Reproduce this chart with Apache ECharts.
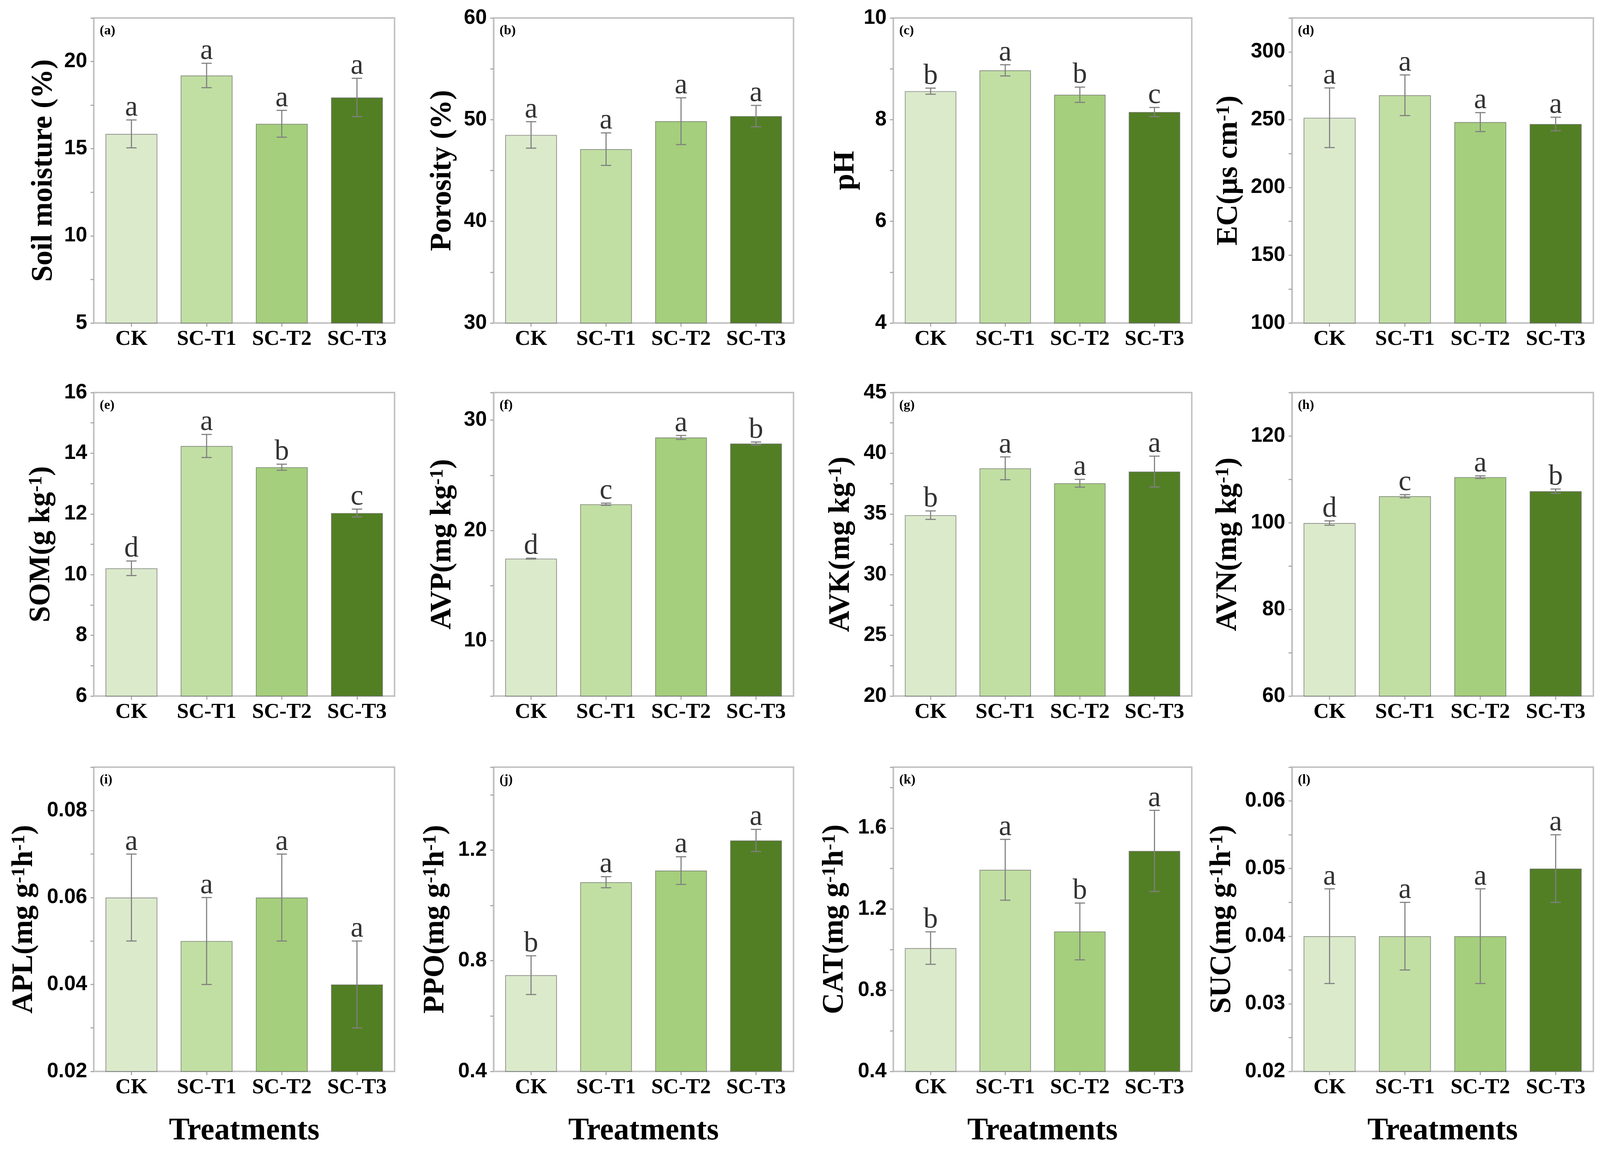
<!DOCTYPE html>
<html>
<head>
<meta charset="utf-8">
<script src="https://cdn.jsdelivr.net/npm/echarts@6/dist/echarts.min.js"></script>
<style>html,body{margin:0;padding:0;background:#fff;overflow:hidden}#c{position:absolute;left:0;top:0}</style>
</head>
<body>
<div id="c"></div>
<script>
// ---------- data ----------
const categories = ['CK', 'SC-T1', 'SC-T2', 'SC-T3'];

const moistureMean = [15.85, 19.2, 16.43, 17.94];
const moistureErr  = [0.8, 0.7, 0.77, 1.1];
const moistureSig  = ['a', 'a', 'a', 'a'];
const moistureTicks = ['5', '10', '15', '20'];
const moistureRange = [5, 22.5, 2.5];

const porosityMean = [48.5, 47.1, 49.85, 50.35];
const porosityErr  = [1.3, 1.6, 2.3, 1.05];
const porositySig  = ['a', 'a', 'a', 'a'];
const porosityTicks = ['30', '40', '50', '60'];
const porosityRange = [30, 60, 5];

const phMean = [8.56, 8.97, 8.49, 8.15];
const phErr  = [0.06, 0.11, 0.15, 0.09];
const phSig  = ['b', 'a', 'b', 'c'];
const phTicks = ['4', '6', '8', '10'];
const phRange = [4, 10, 1];

const ecMean = [251.4, 268, 248.2, 246.8];
const ecErr  = [22, 15, 7, 5];
const ecSig  = ['a', 'a', 'a', 'a'];
const ecTicks = ['100', '150', '200', '250', '300'];
const ecRange = [100, 325, 25];

const somMean = [10.21, 14.24, 13.54, 12.03];
const somErr  = [0.24, 0.38, 0.1, 0.13];
const somSig  = ['d', 'a', 'b', 'c'];
const somTicks = ['6', '8', '10', '12', '14', '16'];
const somRange = [6, 16, 1];

const avpMean = [17.45, 22.38, 28.43, 27.88];
const avpErr  = [0.04, 0.1, 0.18, 0.14];
const avpSig  = ['d', 'c', 'a', 'b'];
const avpTicks = ['10', '20', '30'];
const avpRange = [5, 32.5, 5];

const avkMean = [34.9, 38.76, 37.53, 38.49];
const avkErr  = [0.35, 0.94, 0.32, 1.27];
const avkSig  = ['b', 'a', 'a', 'a'];
const avkTicks = ['20', '25', '30', '35', '40', '45'];
const avkRange = [20, 45, 2.5];

const avnMean = [99.9, 106.1, 110.5, 107.25];
const avnErr  = [0.5, 0.37, 0.3, 0.5];
const avnSig  = ['d', 'c', 'a', 'b'];
const avnTicks = ['60', '80', '100', '120'];
const avnRange = [60, 130, 10];

const aplMean = [0.06, 0.05, 0.06, 0.04];
const aplErr  = [0.01, 0.01, 0.01, 0.01];
const aplSig  = ['a', 'a', 'a', 'a'];
const aplTicks = ['0.02', '0.04', '0.06', '0.08'];
const aplRange = [0.02, 0.09, 0.01];

const ppoMean = [0.748, 1.084, 1.126, 1.235];
const ppoErr  = [0.07, 0.02, 0.05, 0.04];
const ppoSig  = ['b', 'a', 'a', 'a'];
const ppoTicks = ['0.4', '0.8', '1.2'];
const ppoRange = [0.4, 1.5, 0.2];

const catMean = [1.008, 1.394, 1.09, 1.487];
const catErr  = [0.08, 0.15, 0.14, 0.2];
const catSig  = ['b', 'a', 'b', 'a'];
const catTicks = ['0.4', '0.8', '1.2', '1.6'];
const catRange = [0.4, 1.9, 0.2];

const sucMean = [0.04, 0.04, 0.04, 0.05];
const sucErr  = [0.007, 0.005, 0.007, 0.005];
const sucSig  = ['a', 'a', 'a', 'a'];
const sucTicks = ['0.02', '0.03', '0.04', '0.05', '0.06'];
const sucRange = [0.02, 0.065, 0.005];

const panelTags = ['(a)', '(b)', '(c)', '(d)', '(e)', '(f)', '(g)', '(h)', '(i)', '(j)', '(k)', '(l)'];
const axisTitles = [
  '{m|Soil moisture (%)}',
  '{m|Porosity (%)}',
  '{m|pH}',
  '{m|EC(μs cm}{s|-1}{m|)}',
  '{m|SOM(g kg}{s|-1}{m|)}',
  '{m|AVP(mg kg}{s|-1}{m|)}',
  '{m|AVK(mg kg}{s|-1}{m|)}',
  '{m|AVN(mg kg}{s|-1}{m|)}',
  '{m|APL(mg g}{s|-1}{m|h}{s|-1}{m|)}',
  '{m|PPO(mg g}{s|-1}{m|h}{s|-1}{m|)}',
  '{m|CAT(mg g}{s|-1}{m|h}{s|-1}{m|)}',
  '{m|SUC(mg g}{s|-1}{m|h}{s|-1}{m|)}'
];
const xTitle = 'Treatments';

const panels = [
  [moistureMean, moistureErr, moistureSig, moistureTicks, moistureRange],
  [porosityMean, porosityErr, porositySig, porosityTicks, porosityRange],
  [phMean, phErr, phSig, phTicks, phRange],
  [ecMean, ecErr, ecSig, ecTicks, ecRange],
  [somMean, somErr, somSig, somTicks, somRange],
  [avpMean, avpErr, avpSig, avpTicks, avpRange],
  [avkMean, avkErr, avkSig, avkTicks, avkRange],
  [avnMean, avnErr, avnSig, avnTicks, avnRange],
  [aplMean, aplErr, aplSig, aplTicks, aplRange],
  [ppoMean, ppoErr, ppoSig, ppoTicks, ppoRange],
  [catMean, catErr, catSig, catTicks, catRange],
  [sucMean, sucErr, sucSig, sucTicks, sucRange]
];

// ---------- layout / style (designed for 4331 x 2957, scaled to the real viewport) ----------
const BASE_W = 4331, BASE_H = 2957;
const colLefts = [254, 1336, 2418, 3497];
const colWidths = [814, 812, 808, 816];
const rowTops = [46, 1005, 1964];
const rowHeights = [781, 777, 779];
const nameGaps = [95, 97, 88, 130, 101, 97, 101, 132, 148, 116, 118, 148];
const barColors = ['#dbeacb', '#c1dfa3', '#a5cf7c', '#527f24'];
const frameColor = '#c2c2c2';
const errColor = '#808080';
const SERIF = '"Liberation Serif", "Times New Roman", serif';
const SANS = '"Liberation Sans", Arial, sans-serif';

const W = window.innerWidth || document.documentElement.clientWidth || BASE_W;
const H = window.innerHeight || document.documentElement.clientHeight || BASE_H;
const sx = W / BASE_W, sy = H / BASE_H, s = Math.min(sx, sy);
const dom = document.getElementById('c');
dom.style.width = W + 'px';
dom.style.height = H + 'px';

const grids = [], xAxes = [], yAxes = [], series = [], titles = [];

panels.forEach((p, k) => {
  const [mean, err, sig, ticks, range] = p;
  const r = Math.floor(k / 4), c = k % 4;
  const gl = colLefts[c] * sx, gt = rowTops[r] * sy;
  grids.push({
    left: gl, top: gt, width: colWidths[c] * sx, height: rowHeights[r] * sy,
    show: true, borderColor: frameColor, borderWidth: 4 * s, backgroundColor: 'transparent',
    containLabel: false, outerBoundsMode: 'none'
  });
  xAxes.push({
    type: 'category', gridIndex: k, data: categories,
    axisLine: { show: true, lineStyle: { color: frameColor, width: 4 * s } },
    axisTick: { show: true, alignWithLabel: true, length: 10 * s, lineStyle: { color: '#a8a8a8', width: 3 * s } },
    axisLabel: { interval: 0, hideOverlap: false, margin: 14 * sy, color: '#000', fontFamily: SERIF, fontWeight: 'bold', fontSize: 58 * s },
    splitLine: { show: false },
    name: r === 2 ? xTitle : '',
    nameLocation: 'middle', nameGap: 114 * sy, nameMoveOverlap: false,
    nameTextStyle: { color: '#000', fontFamily: SERIF, fontWeight: 'bold', fontSize: 84 * s }
  });
  const step = range[2];
  yAxes.push({
    type: 'value', gridIndex: k, min: range[0], max: range[1], interval: step,
    axisLine: { show: true, lineStyle: { color: frameColor, width: 4 * s } },
    axisTick: { show: true, inside: false, length: 9 * s, lineStyle: { color: '#a8a8a8', width: 3 * s } },
    axisLabel: {
      margin: 18 * sx, color: '#000', fontFamily: SANS, fontWeight: 'bold', fontSize: 56 * s,
      showMinLabel: true, showMaxLabel: true, hideOverlap: false,
      formatter: (v) => {
        const hit = ticks.find(t => Math.abs(parseFloat(t) - v) < step * 1e-6);
        return hit !== undefined ? hit : '';
      }
    },
    splitLine: { show: false },
    name: axisTitles[k], nameLocation: 'middle', nameGap: nameGaps[k] * sx, nameMoveOverlap: false,
    nameTextStyle: {
      color: '#000',
      rich: {
        m: { fontFamily: SERIF, fontWeight: 'bold', fontSize: 80 * s, lineHeight: 80 * s, verticalAlign: 'bottom', padding: [14 * s, 0, 0, 0], color: '#000' },
        s: { fontFamily: SERIF, fontWeight: 'bold', fontSize: 52 * s, lineHeight: 52 * s, verticalAlign: 'top', color: '#000' }
      }
    }
  });
  series.push({
    type: 'bar', xAxisIndex: k, yAxisIndex: k, data: mean, barWidth: '69%',
    itemStyle: { color: (q) => barColors[q.dataIndex], borderColor: 'rgba(95,95,95,0.65)', borderWidth: 2 * s },
    silent: true, z: 2
  });
  series.push({
    type: 'custom', xAxisIndex: k, yAxisIndex: k, z: 5, silent: true,
    data: mean.map((m, i) => [i, m - err[i], m + err[i]]),
    encode: { x: 0, y: [1, 2] },
    renderItem: (params, api) => {
      const x = api.value(0);
      const lo = api.coord([x, api.value(1)]);
      const hi = api.coord([x, api.value(2)]);
      const hw = 14 * sx;
      const st = { stroke: errColor, lineWidth: 3 * s };
      return {
        type: 'group', children: [
          { type: 'line', shape: { x1: lo[0], y1: lo[1], x2: hi[0], y2: hi[1] }, style: st },
          { type: 'line', shape: { x1: hi[0] - hw, y1: hi[1], x2: hi[0] + hw, y2: hi[1] }, style: st },
          { type: 'line', shape: { x1: lo[0] - hw, y1: lo[1], x2: lo[0] + hw, y2: lo[1] }, style: st }
        ]
      };
    }
  });
  series.push({
    type: 'scatter', xAxisIndex: k, yAxisIndex: k, z: 6, silent: true,
    symbolSize: 0, symbol: 'circle',
    data: mean.map((m, i) => [i, m + err[i]]),
    label: {
      show: true, position: 'top', distance: 2 * sy,
      formatter: (q) => sig[q.dataIndex],
      fontFamily: SERIF, fontSize: 78 * s, lineHeight: 60 * s, color: '#000'
    }
  });
  titles.push({
    text: panelTags[k], left: gl + 16 * sx, top: gt + 16 * sy, padding: 0,
    textStyle: { fontFamily: SERIF, fontWeight: 'bold', fontSize: 36 * s, color: '#000' }
  });
});

const chart = echarts.init(dom, null, { renderer: 'canvas', width: W, height: H });
chart.setOption({
  animation: false,
  backgroundColor: '#fff',
  title: titles,
  grid: grids,
  xAxis: xAxes,
  yAxis: yAxes,
  series: series
});
</script>
</body>
</html>
